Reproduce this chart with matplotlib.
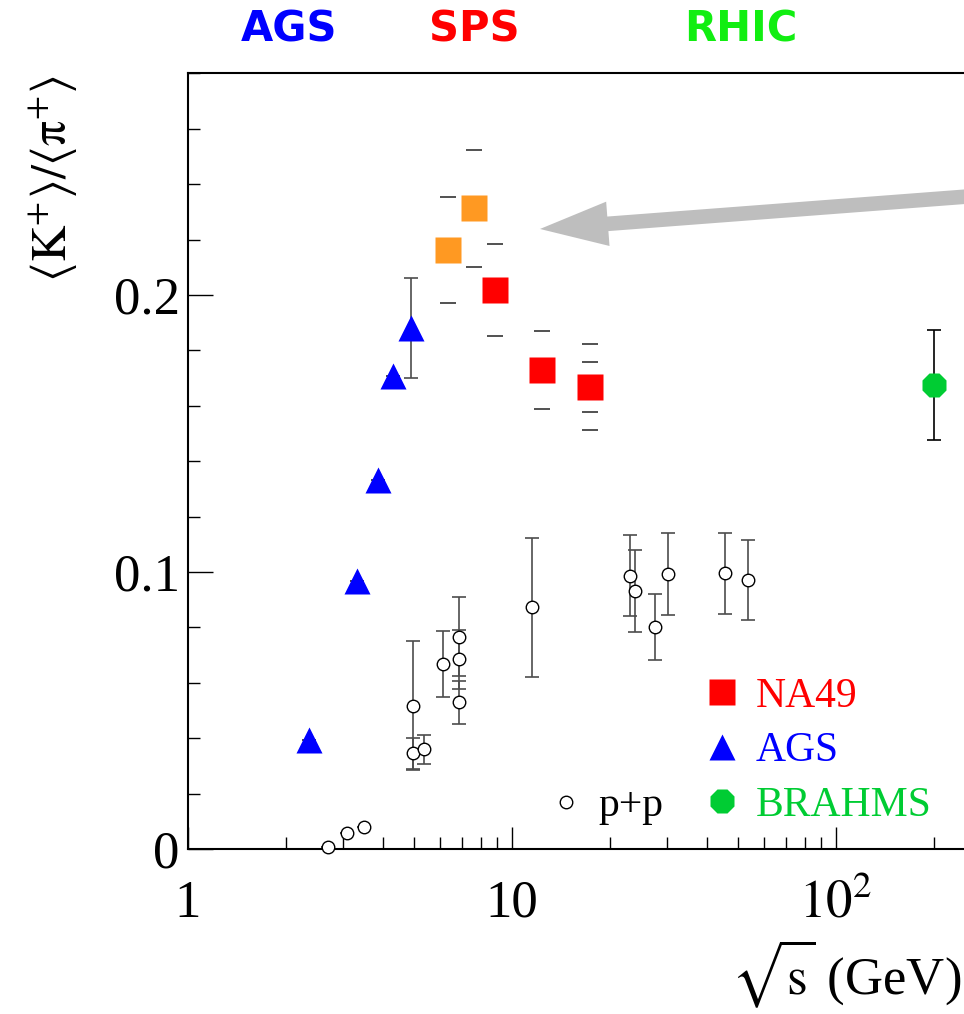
import matplotlib
matplotlib.use("Agg")
import matplotlib.pyplot as plt
from matplotlib import ticker
from matplotlib.lines import Line2D

plt.rcParams['font.family'] = 'serif'
plt.rcParams['font.serif'] = ['Liberation Serif', 'DejaVu Serif']
plt.rcParams['mathtext.fontset'] = 'stix'

# Data
# NA49 (red) and NA49 low-energy points (orange)
na49_x = [8.86, 12.4, 17.4]
na49_y = [0.2017, 0.1729, 0.1668]
na49_err = [0.0166, 0.0141, 0.0154]
na49_err_inner = [0.0, 0.0, 0.0091]

na49_low_x = [6.34, 7.63]
na49_low_y = [0.2162, 0.2312]
na49_low_err = [0.0192, 0.0211]

# AGS
ags_x = [2.37, 3.32, 3.85, 4.28, 4.87]
ags_y = [0.0392, 0.0969, 0.1331, 0.1709, 0.1881]
ags_err = [0.0, 0.0, 0.0, 0.0, 0.0181]

# BRAHMS
brahms_x = [200.0]
brahms_y = [0.1674]
brahms_err = [0.0199]

# p+p
pp_x = [2.71, 3.09, 3.49, 4.94, 4.94, 5.36, 6.11, 6.85, 6.85, 6.85,
        11.5, 23.1, 24.0, 27.6, 30.2, 45.4, 53.5]
pp_y = [0.0008, 0.0059, 0.0078, 0.0517, 0.0345, 0.0360, 0.0668, 0.0767,
        0.0685, 0.0530, 0.0873, 0.0986, 0.0933, 0.0803, 0.0993, 0.0995, 0.0971]
pp_err = [0.0, 0.0, 0.0, 0.0233, 0.0055, 0.0053, 0.0119, 0.0144, 0.0106,
          0.0078, 0.0251, 0.0146, 0.0148, 0.0119, 0.0147, 0.0147, 0.0144]

# Energy regions on top
region_names = ["AGS", "SPS", "RHIC"]
region_colors = ["#0000ff", "#ff0000", "#11ee11"]
region_xpos = [289, 474, 741]   # pixel centres

RED = "#ff0000"
ORANGE = "#ff9922"
BLUE = "#0000ff"
GREEN = "#00cc33"

fig = plt.figure(figsize=(9.64, 10.14), dpi=100)
ax = fig.add_axes([188 / 964, 1 - 849 / 1014, 776 / 964, 776 / 1014])

ax.set_xscale("log")
ax.set_xlim(1, 10 ** (776 / 324))
ax.set_ylim(0, 0.2801)

# p+p with error bars
ax.errorbar(pp_x, pp_y, yerr=pp_err, fmt='none', ecolor='0.3',
            elinewidth=1.2, capsize=5, capthick=1.2, zorder=2)
ax.plot(pp_x, pp_y, linestyle='none', marker='o', ms=9, mfc='white',
        mec='black', mew=1.0, zorder=3, clip_on=False)

# AGS
ax.errorbar(ags_x, ags_y, yerr=ags_err, fmt='none', ecolor='0.3',
            elinewidth=1.2, capsize=5, capthick=1.2, zorder=2)
ax.plot(ags_x, ags_y, linestyle='none', marker='^', ms=18.5, color=BLUE,
        mec='none', zorder=4)

# NA49: caps only (no vertical bar)
for xs, ys, es in [(na49_x, na49_y, na49_err), (na49_x, na49_y, na49_err_inner),
                   (na49_low_x, na49_low_y, na49_low_err)]:
    eb = ax.errorbar(xs, ys, yerr=es, fmt='none', ecolor='0.2',
                     capsize=5.5, capthick=1.2, zorder=2)
    for bc in eb[2]:
        bc.set_visible(False)
ax.plot(na49_low_x, na49_low_y, linestyle='none', marker='s', ms=18.7,
        color=ORANGE, mec='none', zorder=4)
ax.plot(na49_x, na49_y, linestyle='none', marker='s', ms=18.7,
        color=RED, mec='none', zorder=4)

# BRAHMS
ax.errorbar(brahms_x, brahms_y, yerr=brahms_err, fmt='none', ecolor='black',
            elinewidth=1.2, capsize=5, capthick=1.2, zorder=2)
ax.plot(brahms_x, brahms_y, linestyle='none', marker='8', ms=19,
        color=GREEN, mec='none', zorder=4)

# Grey arrow pointing at the horn
ax.annotate('', xy=(12.2, 0.2238), xycoords='data',
            xytext=(1.02, 0.842), textcoords='axes fraction',
            arrowprops=dict(facecolor='#bebebe', edgecolor='none',
                            width=10.5, headwidth=32, headlength=49, shrink=0),
            annotation_clip=False)

# Axes design
for side in ['left', 'top', 'bottom']:
    ax.spines[side].set_linewidth(1.5)
ax.spines['right'].set_visible(False)

ax.set_xticks([1, 10, 100])
ax.set_xticklabels(['1', '10', r'$10^{2}$'])
ax.xaxis.set_minor_locator(ticker.LogLocator(base=10, subs=range(2, 10), numticks=20))
ax.xaxis.set_minor_formatter(ticker.NullFormatter())
ax.yaxis.set_major_locator(ticker.FixedLocator([0, 0.1, 0.2]))
ax.yaxis.set_minor_locator(ticker.MultipleLocator(0.02))
ax.yaxis.set_major_formatter(ticker.FuncFormatter(lambda v, p: '0' if v == 0 else '%.1f' % v))

ax.tick_params(axis='both', which='both', direction='in', top=False, right=False,
               width=1.0, labelsize=38)
ax.tick_params(axis='y', which='major', length=18, pad=6)
ax.tick_params(axis='x', which='major', length=16, pad=22)
ax.tick_params(axis='both', which='minor', length=8.6)

ax.set_ylabel(r'$\langle\mathrm{K}^{+}\rangle/\langle\mathrm{\pi}^{+}\rangle$',
              fontsize=36, loc='top')
ax.yaxis.set_label_coords(-0.139, 0.997)
ax.set_xlabel(r'$\sqrt{\mathrm{s}}$ (GeV)', fontsize=38, loc='right', va='bottom')
ax.xaxis.set_label_coords(0.997, -0.207)

# Legends
main_handles = [
    Line2D([], [], linestyle='none', marker='s', ms=18.7, color=RED, mec='none'),
    Line2D([], [], linestyle='none', marker='^', ms=18.5, color=BLUE, mec='none'),
    Line2D([], [], linestyle='none', marker='8', ms=19, color=GREEN, mec='none'),
]
leg1 = ax.legend(main_handles, ['NA49', 'AGS', 'BRAHMS'], loc='upper left',
                 bbox_to_anchor=(0.669, 0.221), frameon=False, fontsize=30,
                 handlelength=0.7, handletextpad=0.47, borderpad=0,
                 borderaxespad=0, labelspacing=0.38, numpoints=1)
for txt, col in zip(leg1.get_texts(), [RED, BLUE, GREEN]):
    txt.set_color(col)
ax.add_artist(leg1)

pp_handle = [Line2D([], [], linestyle='none', marker='o', ms=9, mfc='white',
                    mec='black', mew=1.0)]
ax.legend(pp_handle, ['p+p'], loc='upper left', bbox_to_anchor=(0.468, 0.080),
          frameon=False, fontsize=30, handlelength=0.7, handletextpad=0.44,
          borderpad=0, borderaxespad=0, numpoints=1)

# Energy region labels
for name, col, xp in zip(region_names, region_colors, region_xpos):
    fig.text(xp / 964, 1 - 30 / 1014, name, color=col, fontsize=30,
             fontweight='bold', family='DejaVu Sans', ha='center', va='center')

plt.savefig("out.png", dpi=100)
